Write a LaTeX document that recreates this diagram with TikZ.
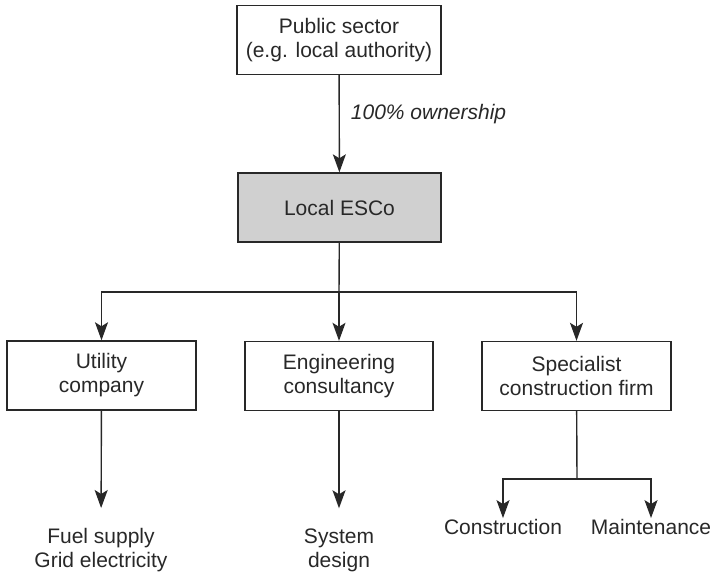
\documentclass[tikz,border=0pt]{standalone}
\usepackage{fontspec}
\setmainfont{Liberation Sans}
\usetikzlibrary{arrows.meta}
\definecolor{escofill}{RGB}{208,208,208}
\definecolor{ink}{RGB}{40,40,40}
\begin{document}
\begin{tikzpicture}[x=1pt,y=-1pt,
  font=\fontsize{21}{24}\selectfont,
  text=ink,
  box/.style={draw=ink, line width=1.4pt, minimum width=#1, minimum height=69pt,
              inner sep=0pt, align=center},
  lbl/.style={align=center, inner sep=0pt},
  link/.style={draw=ink, line width=1.4pt},
  arr/.style={link, -{Stealth[length=18pt,width=13pt,inset=4pt]}}]
\useasboundingbox (0,0) rectangle (711,576);

% ownership chain
\node[box=204pt] (pub) at (339,40) {Public sector\\(e.g. local authority)};
\node[box=203pt, fill=escofill] (esco) at (339.5,207.5) {Local ESCo};
\draw[arr] (pub) -- node[pos=0.4, right, xshift=11pt, lbl, font=\fontsize{21}{24}\selectfont\itshape] (own) {100\% ownership} (esco);

% partner firms
\node[box=189pt] (util) at (101.5,375.5) {Utility\\company};
\node[box=188pt] (eng) at (339,376) {Engineering\\consultancy};
\node[box=189pt] (spec) at (576.5,376) {Specialist\\construction firm};

\coordinate (bus) at (339,292);
\draw[link] (esco) -- (bus);
\draw[arr] (bus) -| (util);
\draw[arr] (bus) -- (eng);
\draw[arr] (bus) -| (spec);

% services
\node[lbl] (fuel) at (101,550) {Fuel supply\\Grid electricity};
\node[lbl] (design) at (339,550) {System\\design};
\node[lbl] (cons) at (503,527) {Construction};
\node[lbl] (maint) at (651,527) {Maintenance};

\draw[arr, shorten >=20pt] (util) -- (fuel);
\draw[arr, shorten >=20pt] (eng) -- (design);

\coordinate (split) at (577,479);
\draw[link] (spec) -- (split);
\draw[arr, shorten >=1pt] (split) -| (cons);
\draw[arr, shorten >=1pt] (split) -| (maint);
\end{tikzpicture}
\end{document}
